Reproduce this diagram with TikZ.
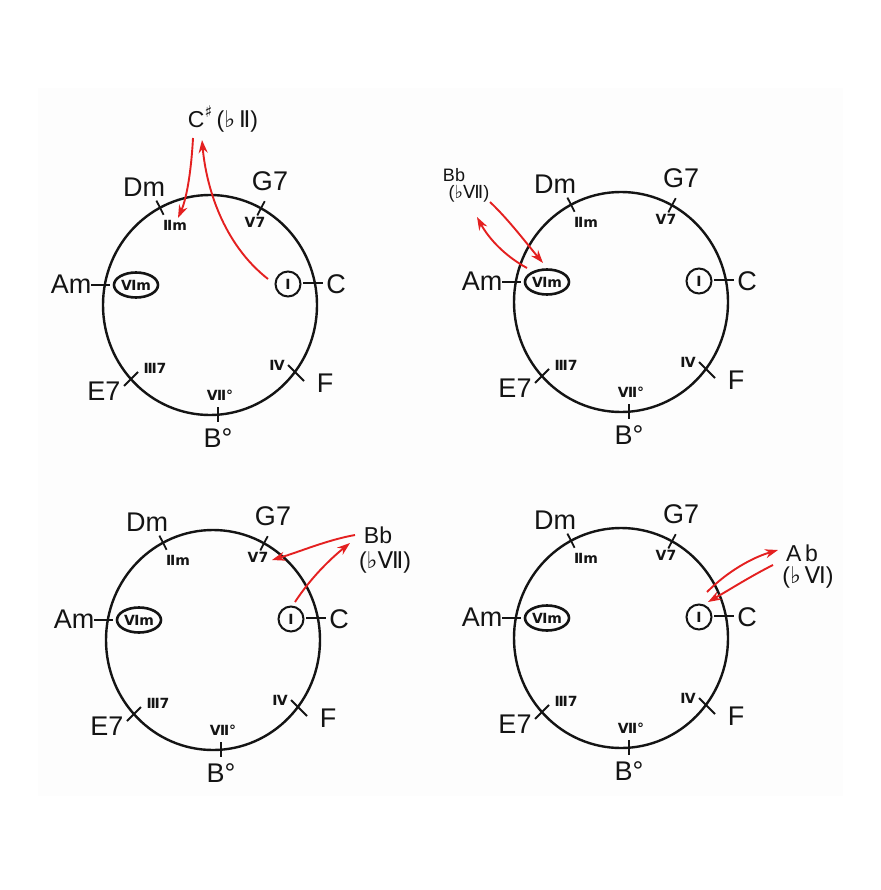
\documentclass[tikz,border=0pt]{standalone}
\usepackage{fontspec}
\setmainfont{Liberation Sans}
\newfontfamily\symf{DejaVu Sans}
\usetikzlibrary{arrows.meta,shapes.geometric}
\definecolor{penred}{RGB}{228,32,32}
\definecolor{ink}{RGB}{20,20,20}
\definecolor{paper}{RGB}{253,253,253}
\tikzset{
  wheelline/.style={draw=ink,line width=2.4pt},
  tickline/.style={draw=ink,line width=1.8pt},
  chord/.style={font=\fontsize{27}{27}\selectfont,text=ink,inner sep=0pt},
  degree/.style={font=\symf\bfseries\fontsize{14}{14}\selectfont,text=ink,inner sep=0.5pt},
  tonic/.style={degree,circle,draw=ink,line width=2pt,minimum size=25pt,inner sep=0pt},
  relmin/.style={degree,ellipse,draw=ink,line width=2.6pt,minimum width=44pt,minimum height=25pt,inner sep=0pt},
  borrowed/.style={font=\fontsize{23}{23}\selectfont,text=ink,inner sep=0pt},
  smallborrowed/.style={font=\fontsize{18}{18}\selectfont,text=ink,inner sep=0pt},
  redarrow/.style={draw=penred,line width=1.9pt,-{Stealth[length=13pt,width=9pt]}},
}
\newcommand\chordwheel[4]{%
  \begin{scope}[shift={(#2,#3)},name prefix=#1-]
    \draw[wheelline] (0,0) ellipse [x radius=107,y radius=110];
    % ticks
    \draw[tickline] (-53.6,-104.4) -- (-46.4,-90.2);
    \draw[tickline] (54.7,-103.8) -- (47.3,-89.6);
    \draw[tickline] (93,-22) -- (113,-22);
    \draw[tickline] (78,60) -- (94,76);
    \draw[tickline] (8,102) -- (8,117);
    \draw[tickline] (-86,81) -- (-72,67);
    \draw[tickline] (-119,-20) -- (-100,-20);
    % chord names
    \node[chord] (Dm) at (-66,-118) {Dm};
    \node[chord] (G7) at (60,-124) {G7};
    \node[chord] (C)  at (126,-21) {C};
    \node[chord] (F)  at (115,78) {F};
    \node[chord] (Bdim) at (8,133) {B°};
    \node[chord] (E7) at (-106,86) {E7};
    \node[chord] (Am) at (-139,-21) {Am};
    % degrees
    \node[degree] (II) at (-35,-80) {Ⅱm};
    \node[degree] (V)  at (45,-83) {Ⅴ7};
    \node[tonic]  (I)  at (78,-21) {Ⅰ};
    \node[relmin] (VI) at (-74,-20) {Ⅵm};
    \node[degree] (III) at (-55,63) {Ⅲ7};
    \node[degree] (IV) at (67,60) {Ⅳ};
    \node[degree] (VII) at (10,90) {Ⅶ°};
    #4
  \end{scope}}
\begin{document}
\begin{tikzpicture}[x=1pt,y=-1pt]
  \useasboundingbox (0,0) rectangle (880,890);
  \fill[paper] (38,88) rectangle (843,796);

  % top left: C# (bII)
  \chordwheel{a}{210}{305}{%
    \node[borrowed] (Cs) at (13,-186) {C\textsuperscript{\symf ♯}\,({\symf ♭}\,{\symf Ⅱ})};
    \coordinate (p1) at (58,-26);
    \coordinate (p2) at (-8,-165);
    \coordinate (p3) at (-17,-167);
    \coordinate (p4) at (-32,-87);
    \draw[redarrow] (p1) .. controls (12,-62) and (-4,-120) .. (p2);
    \draw[redarrow] (p3) .. controls (-19,-130) and (-24,-105) .. (p4);
  }

  % top right: Bb (bVII) to VIm
  \chordwheel{b}{621}{302}{%
    \node[smallborrowed] (Bb) at (-167,-127) {Bb};
    \node[smallborrowed] (bVII) at (-152,-108) {({\symf ♭Ⅶ})};
    \coordinate (q1) at (-131,-100);
    \coordinate (q2) at (-78,-39);
    \coordinate (q3) at (-94,-34);
    \coordinate (q4) at (-144,-85);
    \draw[redarrow] (q1) .. controls (-112,-82) and (-94,-58) .. (q2);
    \draw[redarrow] (q3) .. controls (-116,-46) and (-132,-63) .. (q4);
  }

  % bottom left: I -> Bb (bVII) -> V7
  \chordwheel{c}{213}{640}{%
    \node[borrowed] (Bb) at (165,-105) {Bb};
    \node[borrowed] (bVII) at (172,-78) {({\symf ♭Ⅶ})};
    \coordinate (r1) at (82,-38);
    \coordinate (r2) at (137,-97);
    \coordinate (r3) at (142,-105);
    \coordinate (r4) at (59,-80);
    \draw[redarrow] (r1) .. controls (97,-61) and (116,-80) .. (r2);
    \draw[redarrow] (r3) .. controls (114,-100) and (86,-88) .. (r4);
  }

  % bottom right: I <-> Ab (bVI)
  \chordwheel{d}{621}{638}{%
    \node[borrowed] (Ab) at (181,-85) {A\,b};
    \node[borrowed] (bVI) at (187,-61) {({\symf ♭}\,{\symf Ⅵ})};
    \coordinate (s1) at (86,-46);
    \coordinate (s2) at (157,-88);
    \coordinate (s3) at (152,-73);
    \coordinate (s4) at (87,-36);
    \draw[redarrow] (s1) .. controls (106,-66) and (130,-80) .. (s2);
    \draw[redarrow] (s3) .. controls (130,-62) and (108,-48) .. (s4);
  }
\end{tikzpicture}
\end{document}
